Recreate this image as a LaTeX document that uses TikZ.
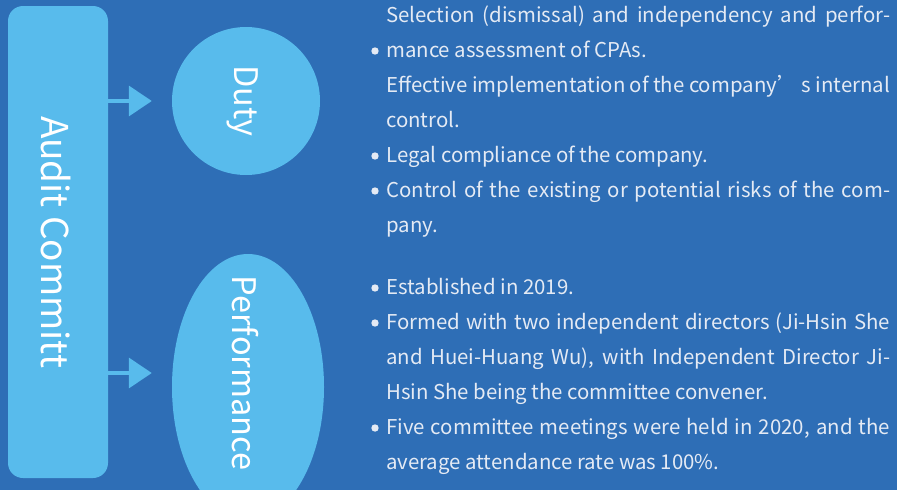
\documentclass[tikz,border=0pt]{standalone}
\usepackage{fontspec}
\setmainfont{Noto Sans CJK TC}
\usetikzlibrary{arrows.meta,shapes.geometric}

\definecolor{deepblue}{RGB}{46,110,182}
\definecolor{skyblue}{RGB}{88,187,236}
\definecolor{paletext}{RGB}{228,234,244}

\tikzset{
  pill/.style={fill=skyblue, draw=none, rounded corners=15pt, minimum width=100pt, minimum height=472pt},
  blob/.style={fill=skyblue, draw=none, ellipse, inner sep=0pt},
  vlabel/.style={text=white, rotate=-90, inner sep=0pt, font=\fontsize{32.5}{36}\selectfont},
  link/.style={skyblue, line width=3.4pt, -{Triangle[length=23pt,width=30pt]}, shorten >=20pt},
  para/.style={anchor=base west, inner sep=0pt, text=paletext, font=\fontsize{20.4}{25}\selectfont},
}
\newcommand{\jline}[1]{\makebox[504pt][s]{#1}}

\begin{document}
\begin{tikzpicture}[x=1pt,y=-1pt]
\fill[deepblue] (0,0) rectangle (897,490);
\useasboundingbox (0,0) rectangle (897,490);
\clip (0,0) rectangle (897,490);

% left column
\node[pill] (board) at (58,242) {};
\node[vlabel, font=\fontsize{37}{40}\selectfont] (boardtxt) at (56,242) {Audit Committ};

\node[blob, minimum width=148pt, minimum height=148pt] (duty) at (246,101) {};
\node[vlabel] (dutytxt) at (243,101) {Duty};

\node[blob, minimum width=152pt, minimum height=266pt] (perf) at (248,387) {};
\node[vlabel] (perftxt) at (245,373) {Performance};

\draw[link] (board.east |- duty) -- (duty.west);
\draw[link] (board.east |- perftxt) -- (perf.west |- perftxt);

% duty list
\node[para] (d1) at (386,22) {\jline{Selection (dismissal) and independency and perfor-}};
\node[para] (d2) at (386,57) {mance assessment of CPAs.};
\node[para] (d3) at (386,92) {\jline{Effective implementation of the company’ s internal}};
\node[para] (d4) at (386,127) {control.};
\node[para] (d5) at (386,162) {Legal compliance of the company.};
\node[para] (d6) at (386,197) {\jline{Control of the existing or potential risks of the com-}};
\node[para] (d7) at (386,232) {pany.};

% performance list
\node[para] (p1) at (386,294) {Established in 2019.};
\node[para] (p2) at (386,329) {\jline{Formed with two independent directors (Ji-Hsin She}};
\node[para] (p3) at (386,364) {\jline{and Huei-Huang Wu), with Independent Director Ji-}};
\node[para] (p4) at (386,399) {Hsin She being the committee convener.};
\node[para] (p5) at (386,434) {\jline{Five committee meetings were held in 2020, and the}};
\node[para] (p6) at (386,469) {average attendance rate was 100\%.};

\foreach \n in {d2,d5,d6,p1,p2,p5}
  \fill[paletext] ([xshift=-11pt,yshift=6pt]\n.base west) circle (3.7pt);
\end{tikzpicture}
\end{document}
